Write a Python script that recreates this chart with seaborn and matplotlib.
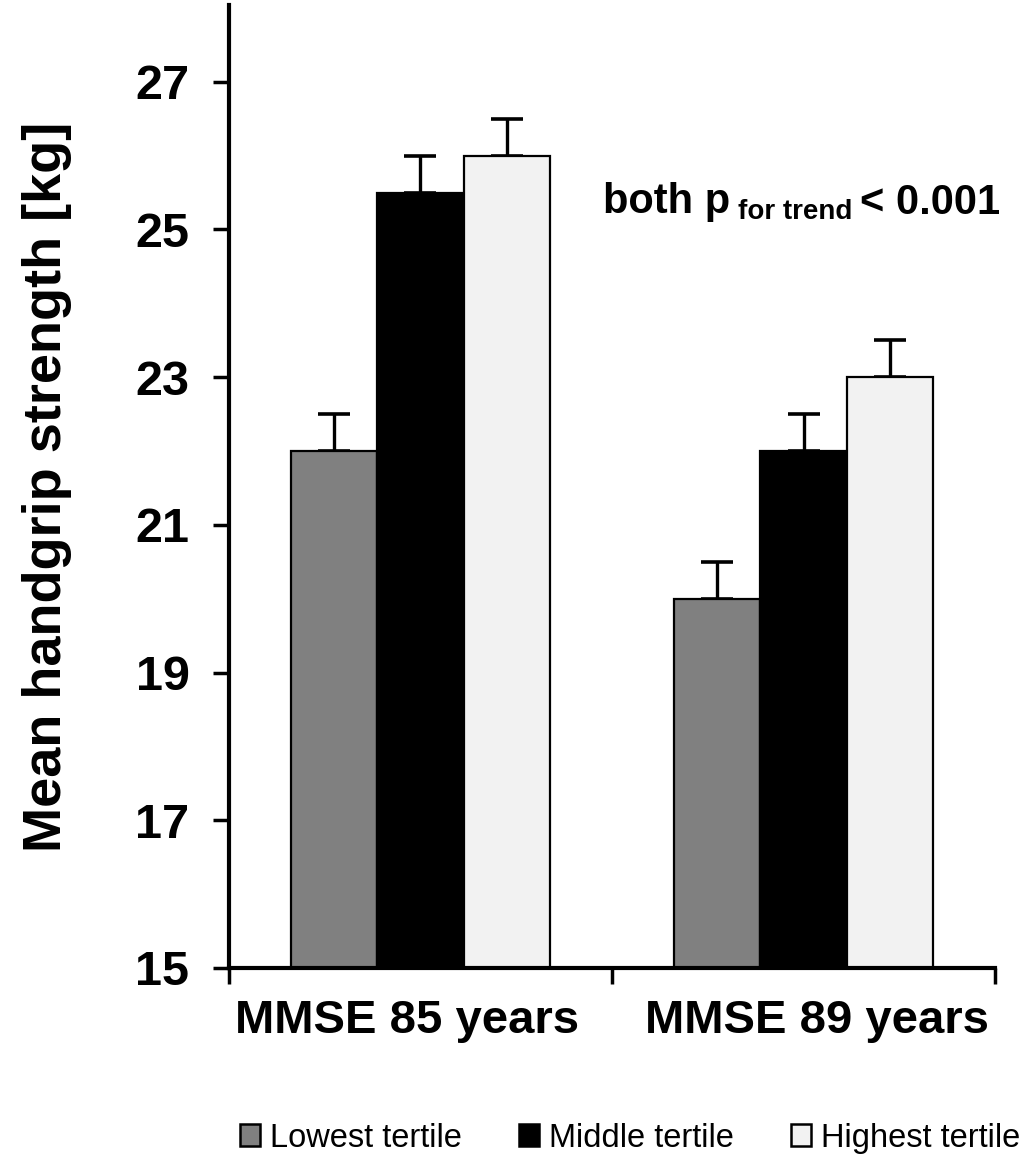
import matplotlib
matplotlib.use("Agg")
import matplotlib.pyplot as plt
import seaborn as sns
import pandas as pd
from matplotlib.patches import Patch

# Grouped bar data: mean handgrip strength by MMSE tertile
groups = ["MMSE 85 years", "MMSE 89 years"]
tertiles = ["Lowest tertile", "Middle tertile", "Highest tertile"]
lowest = [22.0, 20.0]
middle = [25.5, 22.0]
highest = [26.0, 23.0]
# upper error (standard error) for each bar
err_lowest = [0.5, 0.5]
err_middle = [0.5, 0.5]
err_highest = [0.5, 0.5]
yticks = [15, 17, 19, 21, 23, 25, 27]
colors = ["#808080", "#000000", "#f2f2f2"]

rows = []
for tert, vals, errs in zip(tertiles, [lowest, middle, highest],
                            [err_lowest, err_middle, err_highest]):
    for g, v, e in zip(groups, vals, errs):
        rows.append({"group": g, "tertile": tert, "value": v, "err": e})
df = pd.DataFrame(rows)

sns.set_theme(style="white")
plt.rcParams["font.family"] = ["Liberation Sans", "DejaVu Sans"]
plt.rcParams["text.color"] = "black"
plt.rcParams["axes.labelcolor"] = "black"
plt.rcParams["xtick.color"] = "black"
plt.rcParams["ytick.color"] = "black"

fig = plt.figure(figsize=(10.19, 11.57), dpi=100)
ax = fig.add_axes([0.2247, 0.1634, 0.7518, 0.8323])

sns.barplot(data=df, x="group", y="value", hue="tertile",
            order=groups, hue_order=tertiles, palette=colors,
            width=0.675, gap=0, edgecolor="black", linewidth=1.6,
            errorbar=None, ax=ax, zorder=2)

# upper-only error bars on each bar
for patch, (_, row) in zip(ax.patches[:len(df)], df.iterrows()):
    xc = patch.get_x() + patch.get_width() / 2
    top = patch.get_y() + patch.get_height()
    ax.errorbar([xc], [top], yerr=[[0], [row["err"]]], fmt="none",
                ecolor="black", elinewidth=2.4, capsize=11.5,
                capthick=2.6, zorder=1)

if ax.get_legend() is not None:
    ax.get_legend().remove()

ax.set_xlim(-0.5, 1.5)
ax.set_ylim(15, 28.04)
ax.set_yticks(yticks)
ax.set_yticklabels([str(t) for t in yticks], fontsize=35, fontweight="bold")

# group separators as major ticks, group names as minor tick labels
ax.set_xticks([-0.5, 0.5, 1.5])
ax.set_xticklabels(["", "", ""])
ax.set_xticks([-0.035, 1.035], minor=True)
ax.set_xticklabels(groups, minor=True, fontsize=34, fontweight="bold")
ax.tick_params(axis="x", which="minor", length=0, pad=22)
ax.tick_params(axis="x", which="major", direction="out", length=11.5,
               width=2.5, color="black", bottom=True)
ax.tick_params(axis="y", direction="out", length=11.5, width=2.5,
               color="black", pad=17, left=True)

for side in ["top", "right"]:
    ax.spines[side].set_visible(False)
for side in ["left", "bottom"]:
    ax.spines[side].set_linewidth(3)
    ax.spines[side].set_color("black")

ax.set_xlabel("")
ax.set_ylabel("Mean handgrip strength [kg]", fontsize=39, fontweight="bold")
ax.yaxis.set_label_coords(-0.205, 0.5)

# trend annotation with subscript
t1 = ax.text(0.488, 0.784, "both p", transform=ax.transAxes, fontsize=30,
             fontweight="bold", va="baseline", ha="left")
t2 = ax.annotate("for trend", xy=(1, 0), xycoords=t1, xytext=(6, 2.5),
                 textcoords="offset points", fontsize=20,
                 fontweight="bold", va="baseline", ha="left")
t3 = ax.annotate("< 0.001", xy=(1, 0), xycoords=t2, xytext=(5, 7.5),
                 textcoords="offset points", fontsize=30,
                 fontweight="bold", va="baseline", ha="left")

handles = [Patch(facecolor=c, edgecolor="black", linewidth=1.8) for c in colors]
fig.legend(handles, tertiles, loc="center", bbox_to_anchor=(0.618, 0.0164),
           ncol=3, frameon=False, fontsize=23.5, handlelength=0.62,
           handleheight=0.62, handletextpad=0.3, columnspacing=1.75)

fig.savefig("out.png", dpi=100)
